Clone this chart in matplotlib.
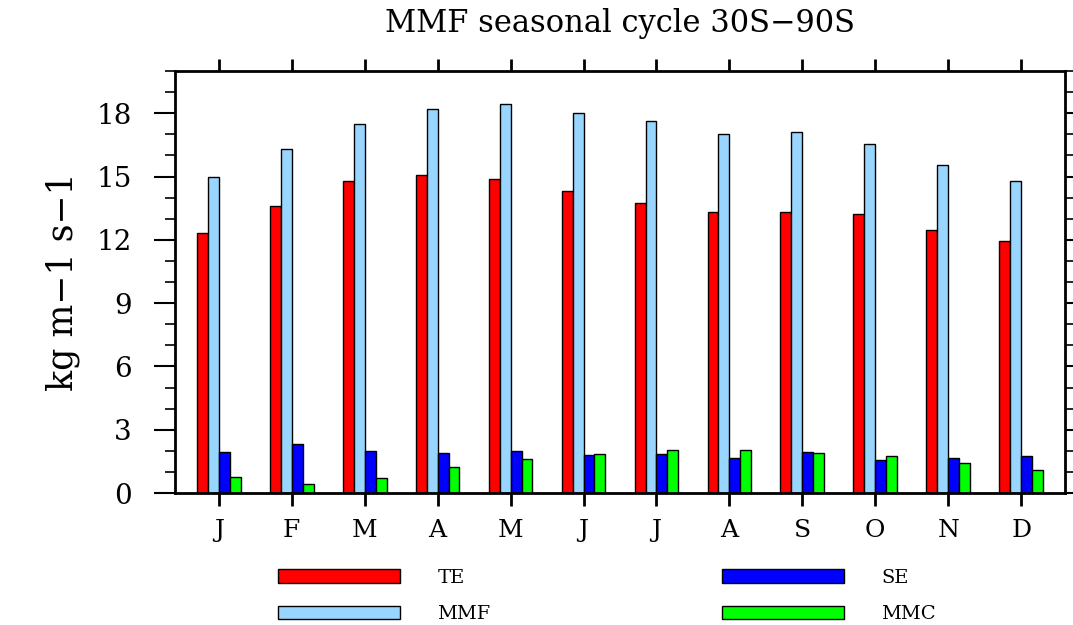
from matplotlib import pyplot as plt
from matplotlib.ticker import MultipleLocator
import numpy as np

months = ['J', 'F', 'M', 'A', 'M', 'J', 'J', 'A', 'S', 'O', 'N', 'D']

# kg m-1 s-1
te = [12.30, 13.61, 14.81, 15.08, 14.87, 14.31, 13.74, 13.33, 13.30, 13.20, 12.47, 11.95]
mmf = [14.98, 16.31, 17.48, 18.19, 18.43, 18.02, 17.61, 17.01, 17.13, 16.56, 15.55, 14.81]
se = [1.94, 2.31, 1.99, 1.88, 1.97, 1.82, 1.85, 1.67, 1.96, 1.58, 1.66, 1.74]
mmc = [0.74, 0.41, 0.69, 1.23, 1.61, 1.85, 2.04, 2.02, 1.88, 1.77, 1.42, 1.11]

series = [('TE', te, '#ff0000'),
          ('MMF', mmf, '#99d6ff'),
          ('SE', se, '#0000ff'),
          ('MMC', mmc, '#00ff00')]

plt.rcParams['font.family'] = 'DejaVu Serif'

fig = plt.figure(figsize=(10.73, 6.25), dpi=100)
ax = fig.add_axes([0.1631, 0.2112, 0.8294, 0.6752])

x = np.arange(1, 13)
w = 0.15
offsets = [-1.5, -0.5, 0.5, 1.5]
for (name, vals, col), off in zip(series, offsets):
    ax.bar(x + off * w, vals, width=w, color=col, edgecolor='black',
           linewidth=1.0, label=name)

ax.set_xlim(0.4, 12.6)
ax.set_ylim(0, 20)
ax.set_xticks(x)
ax.set_xticklabels(months, fontsize=18)
ax.yaxis.set_major_locator(MultipleLocator(3))
ax.yaxis.set_minor_locator(MultipleLocator(1))
ax.tick_params(axis='y', which='major', direction='out', length=15, width=1.5,
               labelsize=20, pad=16, right=True)
ax.tick_params(axis='y', which='minor', direction='out', length=7, width=1.2,
               right=True)
ax.tick_params(axis='x', which='major', direction='out', length=9, width=2,
               pad=10, top=True)
for sp in ax.spines.values():
    sp.set_linewidth(2)

ax.set_ylabel('kg m\u22121 s\u22121', fontsize=25, labelpad=12)
fig.text(0.578, 0.962, 'MMF seasonal cycle 30S\u221290S', ha='center',
         va='center', fontsize=22)

fig.legend(loc='upper left', bbox_to_anchor=(0.259, 0.090), ncol=2,
           frameon=False, fontsize=14, handlelength=6.3, handleheight=0.67,
           handletextpad=1.9, columnspacing=11.9, labelspacing=0.95,
           borderaxespad=0, borderpad=0)

fig.savefig('out.png', dpi=100)
